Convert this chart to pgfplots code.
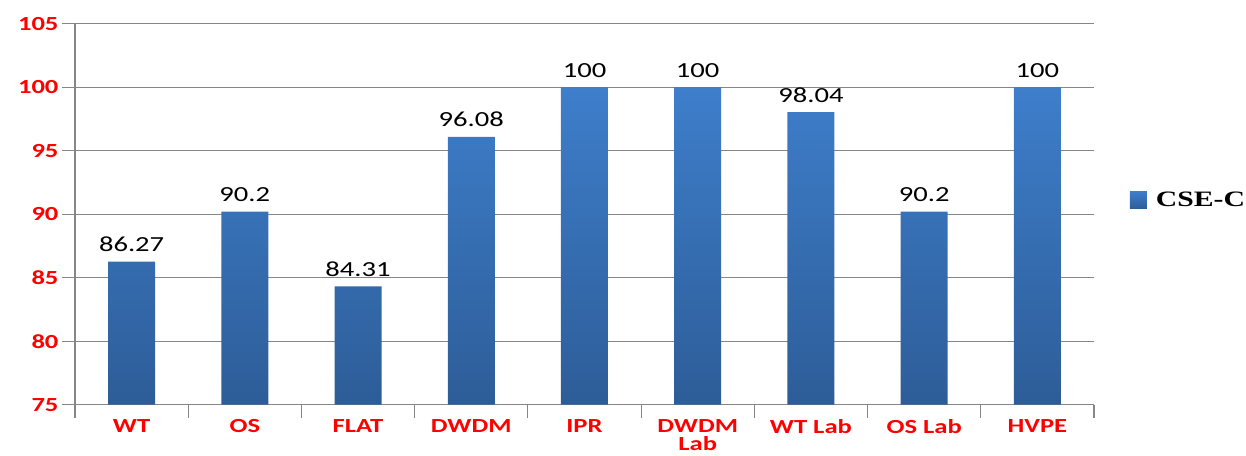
\documentclass[border=0pt]{standalone}
\usepackage{pgfplots}
\pgfplotsset{compat=1.18}
\usepackage{fontspec}
\setmainfont{Carlito}[FakeStretch=1.33]
\newfontfamily\legfont{Liberation Serif}[FakeStretch=1.35]
\definecolor{barTop}{RGB}{62,126,203}
\definecolor{barBot}{RGB}{45,93,152}
\definecolor{gridgray}{RGB}{134,134,134}
\begin{document}
\begin{tikzpicture}
\path[use as bounding box] (-75pt,-50.3pt) rectangle (1171pt,404.7pt);
\begin{axis}[
  scale only axis, width=1019pt, height=381pt,
  at={(0,0)}, anchor=south west,
  ybar, bar width=47pt,
  xmin=-0.5, xmax=8.5, ymin=0, ymax=30,
  y filter/.expression={y-75},
  point meta=rawy,
  /pgf/number format/assume math mode=true,
  ytick={0,5,...,30},
  yticklabels={75,80,85,90,95,100,105},
  axis lines*=left,
  axis line style={draw=gridgray, line width=1.2pt},
  ymajorgrids, grid style={draw=gridgray, line width=1.2pt},
  tick align=outside,
  major tick length=13pt,
  tick style={draw=gridgray, line width=1.2pt},
  xtick={-0.5,0.5,...,8.5}, xticklabels={},
  extra x ticks={0,1,2,3,4,5,6,7,8},
  extra x tick labels={WT,OS,FLAT,DWDM,IPR,{DWDM\\[0pt]Lab},WT Lab,OS Lab,HVPE},
  extra x tick style={tick style={draw=none}},
  yticklabel style={font=\bfseries\fontsize{20}{20}\selectfont, text=red},
  xticklabel style={font=\bfseries\fontsize{20}{18}\selectfont, text=red, align=center, anchor=north, yshift=1.5pt},
  nodes near coords,
  nodes near coords style={font=\fontsize{21.5}{21.5}\selectfont, text=black, anchor=base, inner sep=0pt, yshift=10pt},
  legend style={at={(1.035,0.537)}, anchor=west, draw=none, inner sep=0pt,
    /tikz/every odd column/.append style={column sep=7pt},
    font=\legfont\bfseries\fontsize{22}{22}\selectfont},
  legend image code/.code={\path[#1, draw=none] (0pt,-8.5pt) rectangle (17pt,8.5pt);},
]
\addplot[draw=none, top color=barTop, bottom color=barBot] coordinates {
  (0,86.27) (1,90.2) (2,84.31) (3,96.08) (4,100) (5,100) (6,98.04) (7,90.2) (8,100)
};
\legend{CSE-C}
\end{axis}
\end{tikzpicture}
\end{document}
